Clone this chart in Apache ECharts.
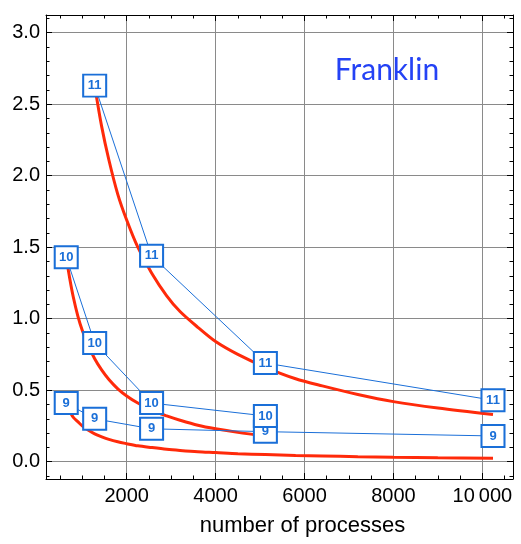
<!DOCTYPE html>
<html>
<head>
<meta charset="utf-8">
<script src="https://cdn.jsdelivr.net/npm/echarts@6/dist/echarts.min.js"></script>
<style>
  html, body { margin: 0; padding: 0; background: #fff; }
  #chart { width: 521px; height: 544px; }
</style>
</head>
<body>
<div id="chart"></div>
<script>
const elChart = document.getElementById('chart');

// Data
const procs = [640, 1280, 2560, 5120, 10240];
const time11 = [null, 2.63, 1.44, 0.69, 0.43];
const time10 = [1.43, 0.83, 0.41, 0.32, null];
const time9 = [0.41, 0.30, 0.23, 0.21, 0.18];

// red fitted curves
const fit11X = [1280, 1440, 1600, 1800, 2000, 2250, 2560, 2900, 3200, 3600, 4000, 4500, 5120, 5800, 6400, 7200, 8000, 9000, 10240];
const fit11Y = [2.63, 2.34, 2.11, 1.87, 1.69, 1.50, 1.32, 1.16, 1.05, 0.94, 0.84, 0.75, 0.66, 0.58, 0.53, 0.47, 0.42, 0.375, 0.33];
const fit10X = [640, 720, 800, 900, 1000, 1140, 1280, 1440, 1600, 1800, 2000, 2250, 2560, 2900, 3200, 3600, 4000, 4500, 5120];
const fit10Y = [1.43, 1.28, 1.15, 1.02, 0.92, 0.81, 0.72, 0.64, 0.575, 0.51, 0.46, 0.41, 0.36, 0.32, 0.29, 0.255, 0.23, 0.205, 0.18];
const fit9X = [640, 720, 800, 900, 1000, 1140, 1280, 1440, 1600, 1800, 2000, 2250, 2560, 2900, 3200, 3600, 4000, 4500, 5120, 5800, 6400, 7200, 8000, 9000, 10240];
const fit9Y = [0.39, 0.35, 0.31, 0.28, 0.25, 0.22, 0.195, 0.174, 0.156, 0.139, 0.126, 0.111, 0.099, 0.087, 0.079, 0.07, 0.064, 0.056, 0.05, 0.044, 0.04, 0.035, 0.031, 0.027, 0.024];

// Tick labels
const xTicks = [2000, 4000, 6000, 8000, 10000];
const yTicks = [0, 0.5, 1.0, 1.5, 2.0, 2.5, 3.0];
const xMinor = [];
for (let v = 500; v <= 10500; v += 500) xMinor.push(v);
const yMinor = [];
for (let i = -1; i <= 31; i++) yMinor.push(Math.round(i * 10) / 100);

const xRange = [185, 10690];
const yRange = [-0.121, 3.124];

const blue = '#1a6fd8';
const red = '#ff2a0a';
const fontFamily = '"Liberation Sans", Arial, sans-serif';

function pairs(xs, ys) {
    return xs.map((x, i) => [x, ys[i]]).filter(p => p[1] !== null);
}

function fmtX(v) {
    return v >= 10000 ? String(v).replace(/(\d)(\d{3})$/, '$1\u2009$2') : String(v);
}

function xAxisOf(position, major, labels) {
    return {
        type: 'value',
        position: position,
        min: xRange[0],
        max: xRange[1],
        axisLine: { show: major, onZero: false, lineStyle: { color: '#000', width: 1 } },
        axisTick: {
            show: true,
            inside: true,
            length: major ? 6 : 3.5,
            customValues: major ? xTicks : xMinor,
            lineStyle: { color: '#000', width: 1 }
        },
        axisLabel: {
            show: labels,
            customValues: xTicks,
            formatter: fmtX,
            color: '#000',
            fontSize: 20,
            fontFamily: fontFamily,
            margin: 7
        },
        splitLine: { show: labels, lineStyle: { color: '#8a8a8a', width: 1 } },
        name: labels ? 'number of processes' : '',
        nameLocation: 'middle',
        nameGap: 36,
        nameTextStyle: {
            color: '#000',
            fontSize: 22,
            fontFamily: fontFamily,
            padding: [0, 0, 0, 46]
        }
    };
}

function yAxisOf(position, major, labels) {
    return {
        type: 'value',
        position: position,
        min: yRange[0],
        max: yRange[1],
        axisLine: { show: major, onZero: false, lineStyle: { color: '#000', width: 1 } },
        axisTick: {
            show: true,
            inside: true,
            length: major ? 6 : 3.5,
            customValues: major ? yTicks : yMinor,
            lineStyle: { color: '#000', width: 1 }
        },
        axisLabel: {
            show: labels,
            customValues: yTicks,
            formatter: v => v.toFixed(1),
            color: '#000',
            fontSize: 20,
            fontFamily: fontFamily,
            margin: 6
        },
        splitLine: { show: labels, lineStyle: { color: '#8a8a8a', width: 1 } }
    };
}

function boxSeries(name, ys) {
    return {
        name: name,
        type: 'line',
        data: pairs(procs, ys),
        symbol: 'rect',
        symbolSize: [23, 22],
        showAllSymbol: true,
        lineStyle: { color: blue, width: 1 },
        itemStyle: { color: '#fff', borderColor: blue, borderWidth: 2 },
        label: {
            show: true,
            position: 'inside',
            formatter: () => name,
            color: blue,
            fontWeight: 'bold',
            fontSize: 13,
            fontFamily: fontFamily
        },
        emphasis: { disabled: true },
        z: 3
    };
}

function fitSeries(xs, ys) {
    return {
        type: 'line',
        data: pairs(xs, ys),
        smooth: 0.3,
        showSymbol: false,
        lineStyle: { color: red, width: 3 },
        emphasis: { disabled: true },
        z: 2
    };
}

const chart = echarts.init(elChart, null, { renderer: 'canvas' });

chart.setOption({
    animation: false,
    grid: { left: 46, top: 15, right: 8, bottom: 65 },
    xAxis: [
        xAxisOf('bottom', true, true),
        xAxisOf('top', true, false),
        xAxisOf('bottom', false, false),
        xAxisOf('top', false, false)
    ],
    yAxis: [
        yAxisOf('left', true, true),
        yAxisOf('right', true, false),
        yAxisOf('left', false, false),
        yAxisOf('right', false, false)
    ],
    graphic: [{
        type: 'text',
        x: 387,
        y: 70,
        style: {
            text: 'Franklin',
            fill: '#2442f5',
            fontSize: 30,
            fontFamily: 'Lato, "Open Sans", sans-serif',
            align: 'center',
            verticalAlign: 'middle'
        }
    }],
    series: [
        fitSeries(fit11X, fit11Y),
        fitSeries(fit10X, fit10Y),
        fitSeries(fit9X, fit9Y),
        boxSeries('9', time9),
        boxSeries('10', time10),
        boxSeries('11', time11)
    ]
});
</script>
</body>
</html>
